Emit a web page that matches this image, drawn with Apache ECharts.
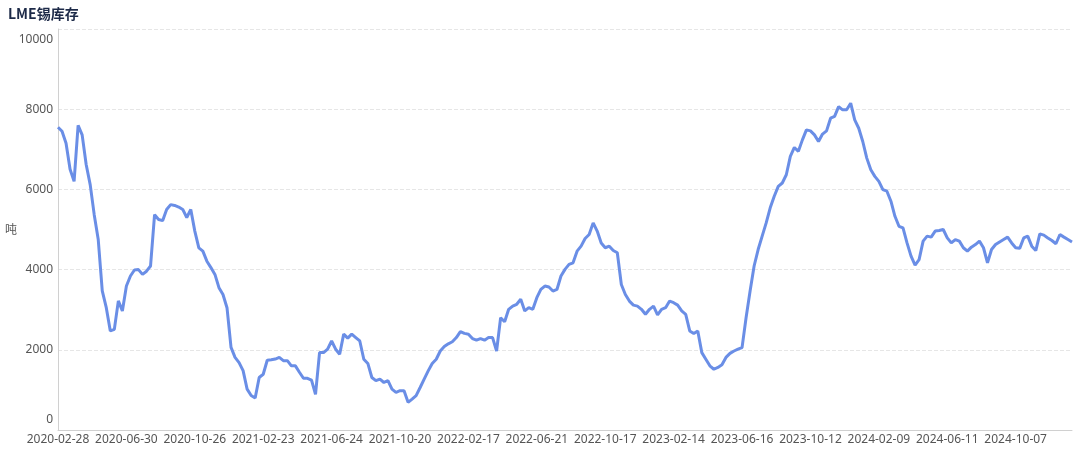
<!DOCTYPE html>
<html>
<head>
<meta charset="utf-8">
<title>LME锡库存</title>
<script src="https://cdn.jsdelivr.net/npm/echarts@6/dist/echarts.min.js"></script>
<style>
    html, body { margin: 0; padding: 0; background: #fff; }
    #chart { width: 1080px; height: 449px; }
</style>
</head>
<body>
<div id="chart"></div>
<script>
    // dates shown on the x axis, one every 17 samples (roughly weekly samples)
    var tickDates = ['2020-02-28', '2020-06-30', '2020-10-26', '2021-02-23', '2021-06-24',
        '2021-10-20', '2022-02-17', '2022-06-21', '2022-10-17', '2023-02-14', '2023-06-16',
        '2023-10-12', '2024-02-09', '2024-06-11', '2024-10-07', '2025-01-31'];
    var samplesPerTick = 17;

    // LME tin stocks, tonnes
    var stock2020 = [
        7550, 7450, 7150, 6500, 6200, 7600, 7360, 6620, 6120, 5370,
        4750, 3470, 3050, 2470, 2510, 3220, 2970, 3590, 3840, 3990,
        4000, 3880, 3960, 4090, 5370, 5250, 5220, 5500, 5620, 5600,
        5560, 5500, 5300, 5500, 4960, 4540, 4460, 4210, 4050, 3880,
        3550, 3380, 3050, 2060, 1810, 1680, 1480, 1020, 860, 800,
        1310, 1390, 1740, 1750, 1770, 1810, 1730, 1730, 1600, 1600,
        1440, 1290, 1290
    ];
    var stock2021 = [
        1245, 890, 1930, 1930, 2015, 2220, 2015, 1890, 2390, 2290,
        2390, 2305, 2220, 1765, 1660, 1310, 1230, 1270, 1185, 1230,
        1020, 940, 980, 980, 690, 770, 855, 1060, 1270, 1475,
        1660, 1765, 1970, 2080, 2150, 2200, 2305, 2455, 2410, 2390,
        2280, 2240, 2280, 2240, 2305, 2305, 1970, 2800, 2700, 3010,
        3090, 3135, 3260, 2970, 3050, 3010, 3300, 3505, 3590, 3565,
        3465, 3505, 3840
    ];
    var stock2022 = [
        4005, 4130, 4170, 4460, 4585, 4775, 4875, 5165, 4960, 4665,
        4545, 4585, 4475, 4420, 3630, 3380, 3215, 3115, 3090, 3010,
        2885, 3010, 3090, 2870, 3010, 3050, 3215, 3175, 3115, 2970,
        2885, 2470, 2405, 2470, 1930, 1765, 1600, 1515, 1560, 1625,
        1810, 1910, 1970, 2015, 2055, 2800, 3465, 4090, 4500, 4835,
        5165, 5540, 5830, 6075, 6160, 6365, 6825, 7045, 6950, 7235,
        7485, 7460
    ];
    var stock2023 = [
        7360, 7195, 7380, 7460, 7775, 7820, 8065, 7985, 7985, 8150,
        7735, 7525, 7195, 6780, 6490, 6325, 6200, 5995, 5955, 5705,
        5330, 5080, 5040, 4665, 4335, 4110, 4250, 4710, 4835, 4810,
        4960, 4975, 5000, 4790, 4665, 4750, 4710, 4545, 4460, 4560,
        4625, 4710, 4545, 4170, 4500, 4625, 4690, 4750, 4810, 4665,
        4545, 4530, 4790, 4835, 4585, 4475, 4890, 4860, 4790, 4725,
        4645, 4875, 4810, 4750, 4690
    ];

    var stock = stock2020.concat(stock2021, stock2022, stock2023);

    function fmt(d) {
        var m = d.getUTCMonth() + 1, day = d.getUTCDate();
        return d.getUTCFullYear() + '-' + (m < 10 ? '0' + m : m) + '-' + (day < 10 ? '0' + day : day);
    }

    // category dates: the tick dates, with the weeks in between filled in
    var dates = [];
    for (var t = 0; t < tickDates.length - 1; t++) {
        var a = Date.parse(tickDates[t]), b = Date.parse(tickDates[t + 1]);
        for (var k = 0; k < samplesPerTick; k++) {
            var day = Math.round(k * (b - a) / samplesPerTick / 86400000);
            dates.push(fmt(new Date(a + day * 86400000)));
        }
    }
    dates = dates.slice(0, stock.length);

    var font = '"Noto Sans", "Noto Sans CJK SC", sans-serif';
    var chart = echarts.init(document.getElementById('chart'));
    chart.setOption({
        animation: false,
        textStyle: {fontFamily: font},
        title: {
            text: 'LME锡库存',
            left: 3,
            top: 2,
            textStyle: {
                fontSize: 14,
                fontWeight: 'bold',
                color: '#1d2a48',
                fontFamily: '"Noto Sans CJK SC", sans-serif'
            }
        },
        grid: {
            left: 58,
            right: 8,
            top: 29,
            bottom: 19,
            containLabel: false,
            outerBoundsMode: 'none'
        },
        xAxis: {
            type: 'category',
            data: dates,
            boundaryGap: false,
            axisLine: {lineStyle: {color: '#d0d0d0'}},
            axisTick: {show: false},
            axisLabel: {
                interval: samplesPerTick - 1,
                color: '#555',
                fontSize: 12,
                margin: 4
            }
        },
        yAxis: {
            type: 'value',
            min: 0,
            max: 10000,
            interval: 2000,
            name: '吨',
            nameLocation: 'middle',
            nameRotate: 0,
            nameGap: 41,
            nameMoveOverlap: false,
            nameTextStyle: {color: '#555', fontSize: 12, fontFamily: '"Noto Sans CJK SC", sans-serif'},
            axisLine: {show: true, lineStyle: {color: '#d0d0d0'}},
            axisTick: {show: false},
            axisLabel: {
                color: '#555',
                fontSize: 12,
                margin: 5,
                formatter: function (v) { return String(v); },
                verticalAlignMinLabel: 'bottom',
                verticalAlignMaxLabel: 'top',
                padding: [5, 0, 4, 0]
            },
            splitLine: {lineStyle: {color: '#e6e6e6', type: 'dashed'}}
        },
        series: [{
            name: 'LME锡库存',
            type: 'line',
            data: stock,
            symbol: 'none',
            lineStyle: {color: '#6a8ee6', width: 3},
            itemStyle: {color: '#6a8ee6'}
        }]
    });
</script>
</body>
</html>
